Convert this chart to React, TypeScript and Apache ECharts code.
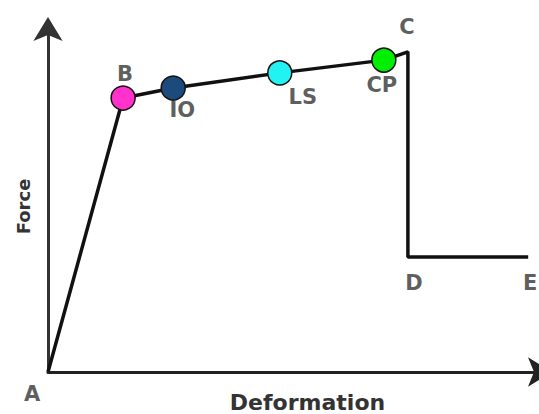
import React, { useEffect, useRef } from 'react';
import * as echarts from 'echarts';

const pointNames = ['A', 'B', 'IO', 'LS', 'CP', 'C', 'D', 'E'];
const deformation = [0, 1.53, 2.55, 4.72, 6.84, 7.33, 7.33, 9.78];
const force = [0, 7.94, 8.23, 8.67, 9.04, 9.28, 3.33, 3.33];
const performanceLevels = ['B', 'IO', 'LS', 'CP'];
const levelColors = ['#ff33cc', '#1d4a7c', '#22f2f2', '#00ee00'];
const labelOffsets: Record<string, [number, number]> = {
  A: [-16, 22],
  B: [2, -24],
  IO: [9, 22],
  LS: [23, 24],
  CP: [-2, 25],
  C: [-1, -25],
  D: [6, 26],
  E: [2, 26],
};

const FONT = 'DejaVu Sans';

export default function App() {
  const ref = useRef<HTMLDivElement>(null);
  useEffect(() => {
    if (!ref.current) return;
    const chart = echarts.init(ref.current, null, { renderer: 'svg' });
    const linePts = pointNames.map((n, i) => [deformation[i], force[i]]);
    const markerData = performanceLevels.map((n, k) => {
      const i = pointNames.indexOf(n);
      return {
        value: [deformation[i], force[i]],
        name: n,
        itemStyle: { color: levelColors[k], borderColor: '#111', borderWidth: 1.5, opacity: 1 },
      };
    });
    const labelData = pointNames.map((n, i) => ({
      value: [deformation[i], force[i]],
      name: n,
      label: {
        show: true,
        position: 'inside',
        offset: labelOffsets[n],
        formatter: n,
      },
    }));
    chart.setOption({
      animation: false,
      grid: { left: 48, right: 0, top: 27, bottom: 42, containLabel: false, outerBoundsMode: 'none' },
      xAxis: {
        type: 'value',
        min: 0,
        max: 10,
        name: 'Deformation',
        nameLocation: 'middle',
        nameGap: 19,
        nameTextStyle: {
          fontFamily: FONT,
          fontWeight: 'bold',
          fontSize: 22,
          color: '#333',
          padding: [0, 0, 0, 28],
        },
        axisLine: {
          show: true,
          symbol: ['none', 'arrow'],
          symbolSize: [22, 24],
          symbolOffset: [0, 13],
          lineStyle: { color: '#222', width: 3 },
        },
        axisTick: { show: false },
        axisLabel: { show: false },
        splitLine: { show: false },
      },
      yAxis: {
        type: 'value',
        min: 0,
        max: 10,
        name: 'Force',
        nameLocation: 'middle',
        nameGap: 16,
        nameTextStyle: {
          fontFamily: FONT,
          fontWeight: 'bold',
          fontSize: 18,
          color: '#333',
          padding: [0, 14, 0, 0],
        },
        axisLine: {
          show: true,
          symbol: ['none', 'arrow'],
          symbolSize: [22, 24],
          symbolOffset: [0, 10],
          lineStyle: { color: '#333', width: 3 },
        },
        axisTick: { show: false },
        axisLabel: { show: false },
        splitLine: { show: false },
      },
      series: [
        {
          type: 'line',
          data: linePts,
          symbol: 'none',
          lineStyle: { color: '#111', width: 3.5 },
          z: 2,
        },
        {
          type: 'scatter',
          data: markerData,
          symbol: 'circle',
          symbolSize: 24,
          z: 3,
        },
        {
          type: 'scatter',
          data: labelData,
          symbolSize: 1,
          itemStyle: { color: 'rgba(0,0,0,0)' },
          label: {
            fontFamily: FONT,
            fontWeight: 'bold',
            fontSize: 21,
            color: '#333',
          },
          z: 4,
        },
      ],
    });
    return () => chart.dispose();
  }, []);
  return (
    <div
      ref={ref}
      style={{ position: 'fixed', left: 0, top: 0, width: 539, height: 414, background: '#fff' }}
    />
  );
}
